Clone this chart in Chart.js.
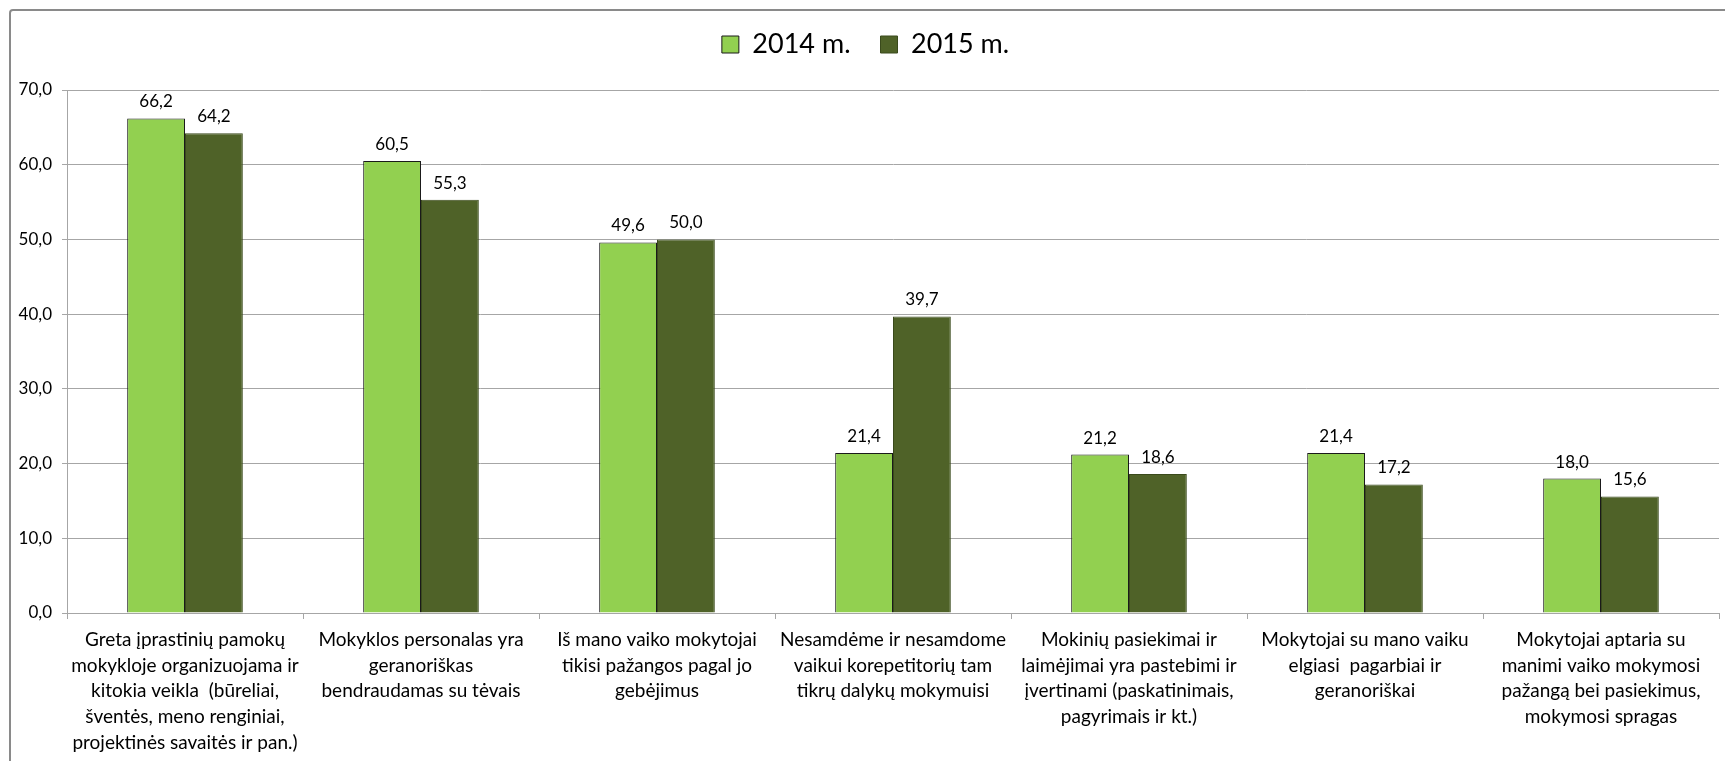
<!DOCTYPE html>
<html lang="lt">
<head>
<meta charset="utf-8">
<title>2014 m. / 2015 m.</title>
<script src="https://cdn.jsdelivr.net/npm/chart.js@4.4.1/dist/chart.umd.min.js"></script>
<style>
    html, body { margin: 0; padding: 0; background: #fff; }
    .wrap { position: relative; width: 1725px; height: 761px; }
    .frame {
        position: absolute; left: 9px; top: 9px; width: 1760px; height: 800px;
        border: 2px solid #8a8a8a; border-radius: 4px; box-sizing: border-box;
        pointer-events: none;
    }
</style>
</head>
<body>
<div class="wrap">
    <canvas id="chart"></canvas>
    <div class="frame"></div>
</div>
<script>
// ── Data ──
const categories = [
    ['Greta įprastinių pamokų', 'mokykloje organizuojama ir', 'kitokia veikla  (būreliai,', 'šventės, meno renginiai,', 'projektinės savaitės ir pan.)'],
    ['Mokyklos personalas yra', 'geranoriškas', 'bendraudamas su tėvais'],
    ['Iš mano vaiko mokytojai', 'tikisi pažangos pagal jo', 'gebėjimus'],
    ['Nesamdėme ir nesamdome', 'vaikui korepetitorių tam', 'tikrų dalykų mokymuisi'],
    ['Mokinių pasiekimai ir', 'laimėjimai yra pastebimi ir', 'įvertinami (paskatinimais,', 'pagyrimais ir kt.)'],
    ['Mokytojai su mano vaiku', 'elgiasi  pagarbiai ir', 'geranoriškai'],
    ['Mokytojai aptaria su', 'manimi vaiko mokymosi', 'pažangą bei pasiekimus,', 'mokymosi spragas']
];
const seriesNames = ['2014 m.', '2015 m.'];
const values2014 = [66.2, 60.5, 49.6, 21.4, 21.2, 21.4, 18.0];
const values2015 = [64.2, 55.3, 50.0, 39.7, 18.6, 17.2, 15.6];
const yTicks = [0, 10, 20, 30, 40, 50, 60, 70];

const FONT = 'Lato, "Open Sans", sans-serif';

function fmt(v) {
    return Number(v).toFixed(1).replace('.', ',');
}

// ── Extra gap under the legend ──
const legendGap = {
    id: 'legendGap',
    beforeInit(chart) {
        const origFit = chart.legend.fit;
        chart.legend.fit = function () {
            origFit.call(this);
            this.height += 22;
        };
    }
};

// ── Value labels above bars ──
const valueLabels = {
    id: 'valueLabels',
    afterDatasetsDraw(chart) {
        const ctx = chart.ctx;
        ctx.save();
        ctx.font = '17px ' + FONT;
        ctx.fillStyle = '#000';
        ctx.textAlign = 'center';
        ctx.textBaseline = 'alphabetic';
        chart.data.datasets.forEach((ds, i) => {
            chart.getDatasetMeta(i).data.forEach((bar, j) => {
                const p = bar.getProps(['x', 'y'], true);
                ctx.fillText(fmt(ds.data[j]), p.x, p.y - 11);
            });
        });
        ctx.restore();
    }
};

new Chart(document.getElementById('chart'), {
    type: 'bar',
    data: {
        labels: categories,
        datasets: [{
            label: seriesNames[0],
            data: values2014,
            backgroundColor: '#92D050',
            borderColor: '#1a1a1a',
            borderWidth: 1,
            categoryPercentage: 0.49,
            barPercentage: 1,
        }, {
            label: seriesNames[1],
            data: values2015,
            backgroundColor: '#4F6228',
            borderColor: '#3a4a1c',
            borderWidth: 1,
            categoryPercentage: 0.49,
            barPercentage: 1,
        }]
    },
    options: {
        responsive: true,
        maintainAspectRatio: false,
        animation: false,
        layout: { padding: { left: 12, right: 6, top: 1, bottom: 0 } },
        plugins: {
            legend: {
                position: 'top',
                labels: {
                    color: '#000',
                    font: { family: FONT, size: 27 },
                    boxWidth: 17,
                    boxHeight: 17,
                    padding: 30,
                }
            },
            tooltip: { enabled: false },
        },
        scales: {
            x: {
                grid: {
                    display: true,
                    offset: true,
                    drawOnChartArea: false,
                    drawTicks: true,
                    tickLength: 6,
                    color: '#a6a6a6',
                },
                border: { color: '#a6a6a6' },
                ticks: {
                    color: '#000',
                    font: { family: FONT, size: 19, lineHeight: 1.35 },
                    maxRotation: 0,
                    autoSkip: false,
                    padding: 8,
                },
                afterFit(scale) { scale.height = 148; }
            },
            y: {
                min: 0,
                max: 70,
                afterBuildTicks(scale) {
                    scale.ticks = yTicks.map(v => ({ value: v }));
                },
                grid: {
                    color: '#a6a6a6',
                    tickLength: 5,
                },
                border: { color: '#a6a6a6' },
                ticks: {
                    color: '#000',
                    font: { family: FONT, size: 17 },
                    padding: 10,
                    callback: v => fmt(v),
                },
                afterFit(scale) { scale.width = 55; }
            }
        }
    },
    plugins: [legendGap, valueLabels]
});
</script>
</body>
</html>
